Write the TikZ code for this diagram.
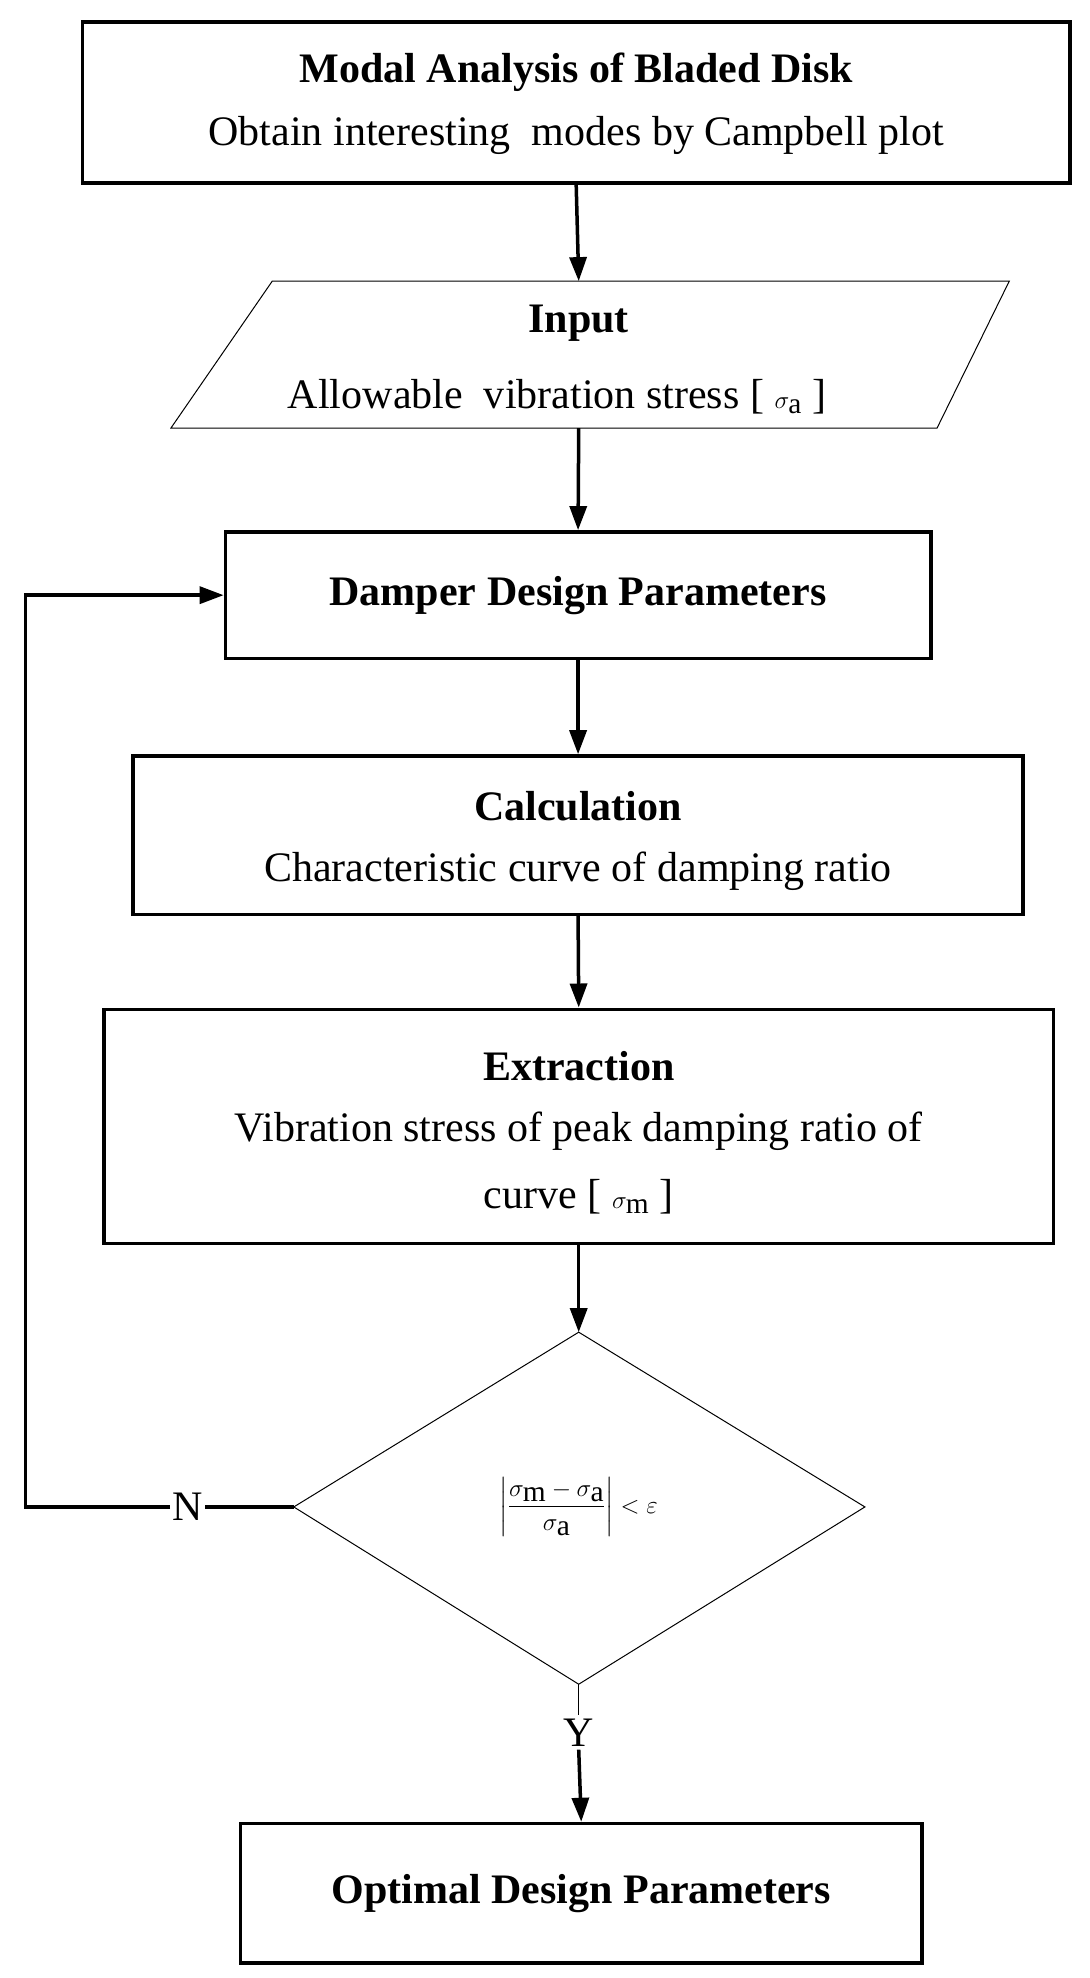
\documentclass[tikz,border=0pt]{standalone}
\usepackage{amsmath}
\usepackage{fontspec}
\setmainfont{Liberation Serif}
\usetikzlibrary{arrows.meta}
\begin{document}
\begin{tikzpicture}[x=1.266pt,y=-1.266pt,
  box/.style={draw,line width=3.5pt,inner sep=0pt},
  txt/.style={font=\fontsize{42}{56}\selectfont,align=center},
  arr/.style={line width=3.5pt,-{Triangle[length=24pt,width=17pt]}},
  thin/.style={line width=1pt}]
\useasboundingbox (0,0) rectangle (860,1562);
\node[box,minimum width=780*1.266pt,minimum height=127*1.266pt] (b1) at (455,81) {};
\node[txt] at (455,57) {\textbf{Modal Analysis of Bladed Disk}};
\node[txt] at (455,107) {Obtain interesting\ \ modes by Campbell plot};
% parallelogram
\draw[thin] (215,222) -- (797,222) -- (740,338) -- (135,338) -- cycle;
\coordinate (pt) at (457,222); \coordinate (pb) at (457,338);
\node[txt] at (457,255) {\textbf{Input}};
\node[txt] at (440,313) {Allowable\ \ vibration stress [ $\sigma_{\mathrm{a}}$ ]};
\node[box,minimum width=557*1.266pt,minimum height=100*1.266pt] (b2) at (456.5,470) {};
\node[txt] at (456.5,470) {\textbf{Damper Design Parameters}};
\node[box,minimum width=703*1.266pt,minimum height=125*1.266pt] (b3) at (456.5,659.5) {};
\node[txt] at (456.5,637) {\textbf{Calculation}};
\node[txt] at (456.5,688) {Characteristic curve of damping ratio};
\node[box,minimum width=750*1.266pt,minimum height=185*1.266pt] (b4) at (457,889.5) {};
\node[txt] at (457,842) {\textbf{Extraction}};
\node[txt] at (457,893) {Vibration stress of peak damping ratio of};
\node[txt] at (457,945) {curve [ $\sigma_{\mathrm{m}}$ ]};
% diamond
\draw[thin] (457,1052) -- (683,1190) -- (457,1330) -- (232,1190) -- cycle;
\coordinate (dt) at (457,1052); \coordinate (dl) at (232,1190); \coordinate (db) at (457,1330);
\node[txt] at (457,1190) {$\left|\dfrac{\sigma_{\mathrm{m}}-\sigma_{\mathrm{a}}}{\sigma_{\mathrm{a}}}\right|<\varepsilon$};
\node[box,minimum width=538*1.266pt,minimum height=110*1.266pt] (b5) at (459,1495) {};
\node[txt] at (459,1495) {\textbf{Optimal Design Parameters}};
\draw[arr] (b1.south) -- (pt);
\draw[arr] (pb) -- (b2.north);
\draw[arr] (b2.south) -- (b3.north);
\draw[arr] (b3.south) -- (b4.north);
\draw[arr] (b4.south) -- (dt);
\node[txt,fill=white,inner sep=2pt] (N) at (148,1190) {N};
\draw[line width=3.5pt] (dl) -- (N.east);
\draw[arr] (N.west) -- (20,1190) -- (20,470) -- (b2.west);
\node[txt] (Y) at (457,1368) {Y};
\draw[thin] (db) -- (Y.north);
\draw[arr] (Y.south) -- (b5.north);
\end{tikzpicture}
\end{document}
